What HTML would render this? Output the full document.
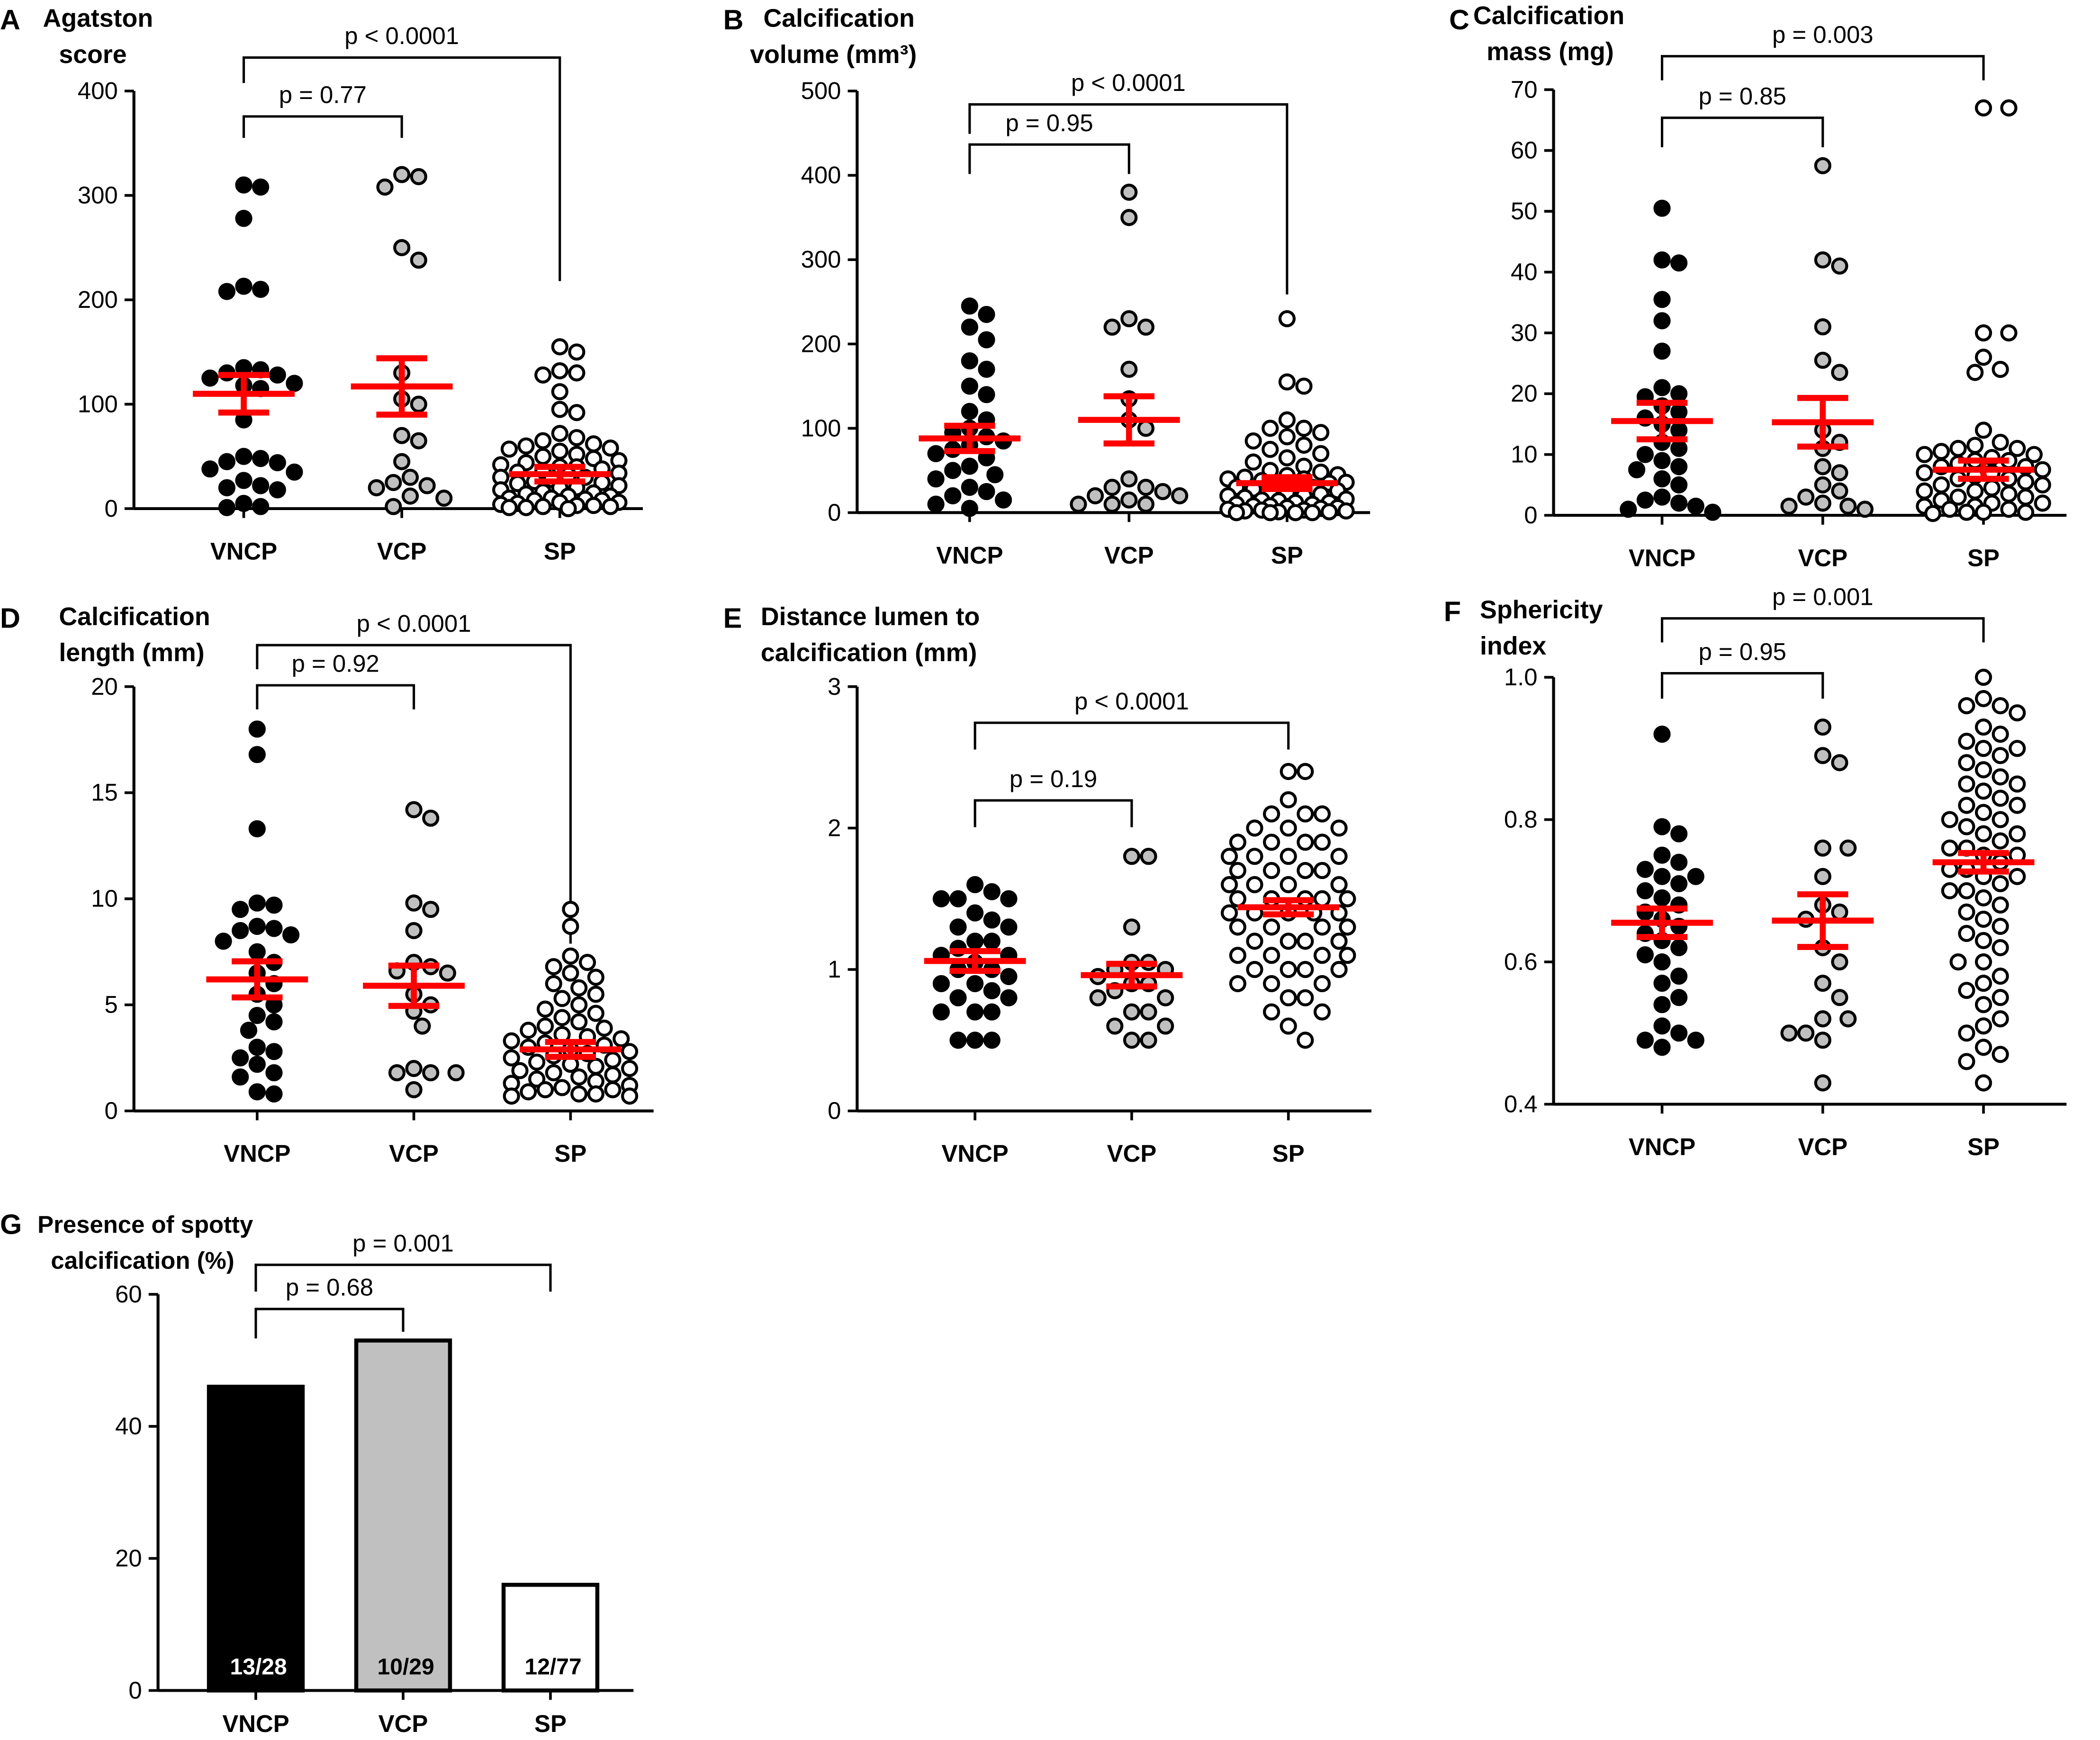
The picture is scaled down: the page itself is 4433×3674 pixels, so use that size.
<!DOCTYPE html>
<html><head><meta charset="utf-8"><style>
html,body{margin:0;padding:0;background:#fff;}
svg{display:block;font-family:"Liberation Sans",sans-serif;}
</style></head><body>
<svg id="fig" width="4433" height="3674" viewBox="0 0 1568 1300" preserveAspectRatio="none" xmlns="http://www.w3.org/2000/svg"></svg>
<script>
const groups = ["VNCP","VCP","SP"];
// Panel A: Agatston score
const aVNCP=[310,308,278,213,210,208,135,133,130,128,125,120,118,115,85,50,48,45,44,38,35,27,22,20,18,5,2,1];
const aVCP=[320,318,308,250,238,130,105,100,70,65,45,30,25,22,20,12,10,2];
const aSP=[155,150,132,130,128,112,95,92,72,68,65,62,60,58,57,55,52,50,48,46,44,42,40,40,38,36,35,34,32,30,30,28,26,25,24,22,20,20,18,16,15,14,12,12,10,10,9,8,8,6,6,5,4,3,3,2,2,1,1,0];
const aMean=[110,117,33], aSem=[18,27,7];
// Panel B: volume
const bVNCP=[245,235,220,205,180,170,150,140,120,110,100,95,90,85,80,75,70,65,55,50,45,40,30,25,20,15,10,5];
const bVCP=[380,350,230,220,220,170,135,110,100,40,30,20,15,10,10,10,20,25,30];
const bSP=[230,155,150,110,100,100,95,90,85,80,75,70,65,60,55,50,48,45,44,42,40,40,38,36,35,34,32,30,30,28,26,25,24,22,20,20,18,16,15,14,12,12,10,10,8,8,6,6,5,4,3,3,2,2,1,1,0,0,0,0];
const bMean=[88,110,35], bSem=[15,28,7];
// Panel C: mass
const cVNCP=[50.5,42,41.5,35.5,32,27,21,20,19.5,18,17,16,15,14,12,11,10,9,8,7.5,6,5,3,2.5,2,1.5,1,0.5];
const cVCP=[57.5,42,41,31,25.5,23.5,14,12,11,8,7,5,4,3,2,1.5,1.5,1];
const cSP=[67,67,30,30,26,24,23.5,14,12,11.5,11,11,10.5,10,10,9.5,9,9,8.5,8,8,7.5,7,7,6.5,6,6,5.5,5,5,4.5,4,4,3.5,3,3,2.5,2,2,1.5,1.5,1,1,0.5,0.5,0.5,0.3];
const cMean=[15.5,15.3,7.5], cSem=[3,4,1.5];
// Panel D: length
const dVNCP=[18,16.8,13.3,9.8,9.7,9.5,8.7,8.6,8.5,8.3,8,7.5,7,6.5,6,5.5,5,4.5,4.2,3.8,3,2.8,2.5,2.2,1.8,1.6,0.9,0.8];
const dVCP=[14.2,13.8,9.8,9.5,8.5,7,6.8,6.6,6.5,5.5,5,4.7,4,2,1.8,1.8,1.8,1];
const dSP=[9.5,8.7,7.3,7,6.8,6.5,6.3,6,5.8,5.5,5.3,5,4.8,4.6,4.4,4.2,4,3.9,3.8,3.6,3.5,3.4,3.3,3.2,3.1,3,2.9,2.8,2.7,2.6,2.5,2.4,2.3,2.2,2.1,2,1.9,1.8,1.7,1.6,1.5,1.4,1.3,1.2,1.1,1,1,0.9,0.8,0.8,0.7,0.7];
const dMean=[6.2,5.9,2.9], dSem=[0.85,0.95,0.35];
// Panel E: distance
const eVNCP=[1.6,1.55,1.5,1.5,1.5,1.4,1.35,1.3,1.3,1.2,1.2,1.15,1.1,1.1,1.05,1.0,1.0,0.95,0.9,0.9,0.85,0.8,0.8,0.7,0.7,0.7,0.5,0.5,0.5];
const eVCP=[1.8,1.8,1.3,1.05,1.05,1.0,1.0,0.95,0.9,0.9,0.85,0.8,0.8,0.7,0.7,0.6,0.6,0.5,0.5];
const eSP=[2.4,2.4,2.2,2.1,2.1,2.1,2.0,2.0,2.0,1.9,1.9,1.9,1.9,1.8,1.8,1.8,1.8,1.7,1.7,1.7,1.7,1.6,1.6,1.6,1.6,1.5,1.5,1.5,1.5,1.5,1.4,1.4,1.4,1.4,1.4,1.3,1.3,1.3,1.3,1.2,1.2,1.2,1.2,1.1,1.1,1.1,1.1,1.0,1.0,1.0,1.0,0.9,0.9,0.9,0.8,0.8,0.7,0.7,0.6,0.5];
const eMean=[1.06,0.96,1.44], eSem=[0.07,0.08,0.05];
// Panel F: sphericity
const fVNCP=[0.92,0.79,0.78,0.75,0.74,0.73,0.72,0.72,0.71,0.7,0.69,0.68,0.67,0.66,0.65,0.64,0.63,0.62,0.61,0.6,0.58,0.57,0.55,0.54,0.51,0.5,0.49,0.49,0.48];
const fVCP=[0.93,0.89,0.88,0.76,0.76,0.72,0.68,0.67,0.66,0.62,0.6,0.57,0.55,0.52,0.52,0.5,0.5,0.49,0.43];
const fSP=[1.0,0.97,0.96,0.96,0.95,0.93,0.92,0.91,0.9,0.9,0.89,0.88,0.87,0.86,0.85,0.85,0.84,0.83,0.82,0.82,0.81,0.8,0.8,0.79,0.78,0.78,0.77,0.76,0.76,0.75,0.75,0.74,0.73,0.73,0.72,0.72,0.71,0.7,0.7,0.69,0.68,0.67,0.66,0.65,0.64,0.63,0.62,0.6,0.6,0.58,0.57,0.56,0.55,0.54,0.52,0.51,0.5,0.48,0.47,0.46,0.43];
const fMean=[0.655,0.658,0.74], fSem=[0.02,0.037,0.013];
// Panel G: bars
const gValues=[46,53,16];
const gLabels=["13/28","10/29","12/77"];
const aTicks=[0,100,200,300,400], bTicks=[0,100,200,300,400,500], cTicks=[0,10,20,30,40,50,60,70];
const dTicks=[0,5,10,15,20], eTicks=[0,1,2,3], fTicks=["0.4","0.6","0.8","1.0"], gTicks=[0,20,40,60];

const NS="http://www.w3.org/2000/svg";
const svg=document.getElementById('fig');
function mk(tag,attrs,parent,txt){const e=document.createElementNS(NS,tag);for(const k in attrs)e.setAttribute(k,attrs[k]);if(txt!==undefined)e.textContent=txt;(parent||svg).appendChild(e);return e;}
const fills=["#000","#c0c0c0","#fff"];

function panel(cfg){
  const g=mk('g',{});
  
  
  const ys=v=>cfg.y0-(v-cfg.tmin)/(cfg.tmax-cfg.tmin)*(cfg.y0-cfg.y1);
  const ya=mk('line',{x1:cfg.ax,y1:cfg.y1,x2:cfg.ax,y2:cfg.y0,stroke:'#000','stroke-width':2.2},g);
  
  const xa=mk('line',{x1:cfg.ax,y1:cfg.y0,x2:cfg.xs[2]+62,y2:cfg.y0,stroke:'#000','stroke-width':2.2},g);
  
  cfg.ticks.forEach(t=>{
    const y=ys(+t);
    mk('line',{x1:cfg.ax-7,y1:y,x2:cfg.ax,y2:y,stroke:'#000','stroke-width':2},g);
    const tl=mk('text',{x:cfg.ax-12,y:y+6,'text-anchor':'end','font-size':18},g,String(t));
    
  });
  groups.forEach((n,i)=>{
    mk('line',{x1:cfg.xs[i],y1:cfg.y0,x2:cfg.xs[i],y2:cfg.y0+7,stroke:'#000','stroke-width':2},g);
    const xl=mk('text',{x:cfg.xs[i],y:cfg.y0+(cfg.xlo||38),'text-anchor':'middle','font-size':18,'font-weight':'bold'},g,n);
    
  });
  const pl=mk('text',{x:cfg.lx,y:cfg.ly,'font-size':21,'font-weight':'bold'},g,cfg.letter);
  
  cfg.title.forEach((t,k)=>{
    const tt=mk('text',{x:cfg.tx[k],y:cfg.ty+k*27,'font-size':cfg.tfs||19,'font-weight':'bold'},g,t);
    
  });
  cfg.br.forEach(b=>{
    const p=mk('path',{d:`M${cfg.xs[0]},${b[2]} V${b[1]} H${cfg.xs[b[0]]} V${b[3]}`,fill:'none',stroke:'#000','stroke-width':1.8},g);
    
    const t=mk('text',{x:(cfg.xs[0]+cfg.xs[b[0]])/2,y:b[1]-10,'text-anchor':'middle','font-size':18},g,b[4]);
    
  });
  if(cfg.bars){
    cfg.bars.forEach((v,i)=>{
      const r=mk('rect',{x:cfg.xs[i]-35,y:ys(v),width:70,height:cfg.y0-ys(v),fill:fills[i],stroke:'#000','stroke-width':3},g);
      
      const t=mk('text',{x:cfg.xs[i]+2,y:cfg.y0-12,'text-anchor':'middle','font-size':17,'font-weight':'bold',fill:i==0?'#fff':'#000'},g,gLabels[i]);
      
    });
    return;
  }
  const R=6.3,D=12.6,MAXW=cfg.maxw||46;
  cfg.data.forEach((arr,i)=>{
    const placed=[];
    const sorted=arr.slice().sort((a,b)=>b-a);
    sorted.forEach(v=>{
      const y=ys(v);let best=null,bestScore=-1;
      for(let k=0;;k++){
        const off=(k%2?1:-1)*Math.ceil(k/2)*D*0.5;
        if(Math.abs(off)>MAXW)break;
        const cx=cfg.xs[i]+off;
        let md=99;placed.forEach(p=>{md=Math.min(md,Math.hypot(p[0]-cx,p[1]-y));});
        if(md>=D){best=cx;break;}
        if(md>bestScore){bestScore=md;best=cx;}
      }
      placed.push([best,y]);
      const c=mk('circle',{cx:best,cy:y,r:R-1,fill:fills[i],stroke:'#000','stroke-width':2.2},g);
      
    });
  });
  cfg.mean.forEach((m,i)=>{
    const x=cfg.xs[i];
    const e=mk('path',{d:`M${x-38},${ys(m)} H${x+38} M${x-19},${ys(m+cfg.sem[i])} H${x+19} M${x-19},${ys(m-cfg.sem[i])} H${x+19} M${x},${ys(m+cfg.sem[i])} V${ys(m-cfg.sem[i])}`,stroke:'#f00','stroke-width':4.5,fill:'none'},g);
    
  });
}
panel({name:'panel-a-agatston',letter:'A',lx:0,ly:22,title:['Agatston','score'],tx:[32,44],ty:20,ax:100,y0:380,y1:68,tmin:0,tmax:400,ticks:aTicks,xs:[182,300,418],data:[aVNCP,aVCP,aSP],mean:aMean,sem:aSem,
 br:[[2,43,62,210,'p < 0.0001'],[1,87,103,103,'p = 0.77']]});
panel({name:'panel-b-volume',letter:'B',lx:540,ly:22,title:['Calcification','volume (mm³)'],tx:[570,560],ty:20,ax:640,y0:383,y1:68,tmin:0,tmax:500,ticks:bTicks,xs:[724,843,961],data:[bVNCP,bVCP,bSP],mean:bMean,sem:bSem,
 br:[[2,78,100,220,'p < 0.0001'],[1,108,130,130,'p = 0.95']]});
panel({name:'panel-c-mass',letter:'C',lx:1082,ly:22,title:['Calcification','mass (mg)'],tx:[1100,1110],ty:18,ax:1160,y0:385,y1:67,tmin:0,tmax:70,ticks:cTicks,xs:[1241,1361,1481],data:[cVNCP,cVCP,cSP],mean:cMean,sem:cSem,
 br:[[2,42,60,60,'p = 0.003'],[1,88,110,110,'p = 0.85']]});
panel({name:'panel-d-length',letter:'D',lx:0,ly:469,title:['Calcification','length (mm)'],tx:[44,44],ty:467,ax:100,y0:830,y1:513,tmin:0,tmax:20,ticks:dTicks,xs:[192,309,426],data:[dVNCP,dVCP,dSP],mean:dMean,sem:dSem,
 br:[[2,482,500,705,'p < 0.0001'],[1,512,530,530,'p = 0.92']]});
panel({name:'panel-e-distance',letter:'E',lx:540,ly:469,title:['Distance lumen to','calcification (mm)'],tx:[568,568],ty:467,ax:640,y0:830,y1:513,tmin:0,tmax:3,ticks:eTicks,xs:[728,845,962],data:[eVNCP,eVCP,eSP],mean:eMean,sem:eSem,
 br:[[2,540,560,560,'p < 0.0001'],[1,598,618,618,'p = 0.19']]});
panel({name:'panel-f-sphericity',letter:'F',lx:1078,ly:464,title:['Sphericity','index'],tx:[1105,1105],ty:462,ax:1160,y0:825,y1:506,tmin:0.4,tmax:1.0,ticks:fTicks,xs:[1241,1361,1481],data:[fVNCP,fVCP,fSP],mean:fMean,sem:fSem,
 br:[[2,462,480,480,'p = 0.001'],[1,503,522,522,'p = 0.95']]});
panel({name:'panel-g-spotty',letter:'G',lx:0,ly:922,title:['Presence of spotty','calcification (%)'],tx:[28,38],ty:921,tfs:18,ax:118,y0:1263,y1:967,tmin:0,tmax:60,ticks:gTicks,xs:[191,301,411],bars:gValues,xlo:31,
 br:[[2,945,965,965,'p = 0.001'],[1,978,1000,995,'p = 0.68']]});
</script>
</body></html>
